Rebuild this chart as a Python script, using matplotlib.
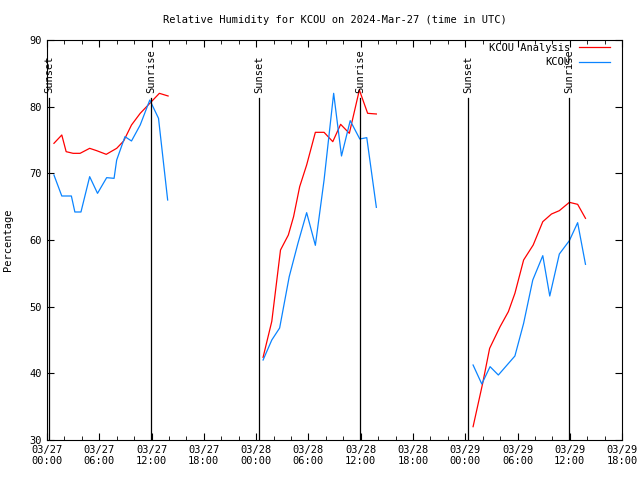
"""
Relative humidity at KCOU: analysis vs observed, with sunrise/sunset markers.
"""
import matplotlib
matplotlib.use("Agg")
import matplotlib.pyplot as plt
from matplotlib.ticker import MultipleLocator

# hours since 03/27 00:00 UTC, three separate runs (NaN breaks the line)
nan = float("nan")

analysis_hours = [0.8, 1.7, 2.2, 3.0, 3.8, 4.9, 5.7, 6.8, 8.0, 8.8, 9.7, 10.7, 11.8, 12.9, 13.9, nan,
                  24.8, 25.8, 26.8, 27.7, 28.3, 29.0, 29.8, 30.8, 31.8, 32.8, 33.7, 34.7, 35.85, 36.8, 37.8, nan,
                  48.9, 50.0, 50.8, 52.0, 52.95, 53.7, 54.7, 55.8, 56.9, 57.9, 58.8, 59.95, 60.9, 61.8]
analysis_rh = [74.5, 75.75, 73.25, 73.0, 73.0, 73.75, 73.4, 72.85, 73.75, 74.85, 77.25, 79.0, 80.5, 82.0, 81.6, nan,
               42.4, 47.8, 58.5, 60.75, 63.5, 68.0, 71.25, 76.15, 76.15, 74.75, 77.35, 76.0, 82.5, 79.0, 78.9, nan,
               32.0, 38.5, 43.75, 47.0, 49.25, 52.0, 57.0, 59.25, 62.75, 63.9, 64.4, 65.65, 65.35, 63.25]

obs_hours = [0.8, 1.7, 2.8, 3.2, 3.9, 4.9, 5.8, 6.85, 7.7, 8.0, 8.95, 9.7, 10.7, 11.8, 12.8, 13.85, nan,
             24.8, 25.8, 26.7, 27.8, 28.8, 29.8, 30.8, 31.8, 32.9, 33.8, 34.8, 35.9, 36.7, 37.8, nan,
             48.9, 49.9, 50.85, 51.8, 53.7, 54.7, 55.75, 56.9, 57.7, 58.8, 59.95, 60.9, 61.8]
obs_rh = [69.75, 66.6, 66.6, 64.2, 64.2, 69.5, 67.0, 69.35, 69.25, 72.0, 75.5, 74.85, 77.25, 81.0, 78.25, 66.0, nan,
          42.0, 45.0, 46.8, 54.5, 59.5, 64.1, 59.2, 69.0, 82.0, 72.6, 77.9, 75.15, 75.35, 64.9, nan,
          41.25, 38.4, 41.0, 39.75, 42.6, 47.5, 54.0, 57.65, 51.6, 57.9, 59.9, 62.6, 56.35]

sun_events = ["Sunset", "Sunrise", "Sunset", "Sunrise", "Sunset", "Sunrise"]
sun_hours = [0.25, 11.95, 24.35, 35.95, 48.35, 59.9]

tick_hours = list(range(0, 67, 6))
tick_labels = ["03/27\n00:00", "03/27\n06:00", "03/27\n12:00", "03/27\n18:00",
               "03/28\n00:00", "03/28\n06:00", "03/28\n12:00", "03/28\n18:00",
               "03/29\n00:00", "03/29\n06:00", "03/29\n12:00", "03/29\n18:00"]

plt.rcParams["font.family"] = "DejaVu Sans Mono"
plt.rcParams["font.size"] = 7.5

fig = plt.figure(figsize=(6.4, 4.8), dpi=100)
ax = fig.add_axes([0.0734, 0.0833, 0.8986, 0.8334])

ax.plot(analysis_hours, analysis_rh, color="#ff0000", lw=0.9, label="KCOU Analysis")
ax.plot(obs_hours, obs_rh, color="#0a84ff", lw=0.9, label="KCOU")

for name, h in zip(sun_events, sun_hours):
    ax.plot([h, h], [30, 81.3], color="black", lw=0.9)
    ax.text(h, 82.0, name, rotation=90, ha="center", va="bottom")

ax.set_xlim(0, 66)
ax.set_ylim(30, 90)
ax.set_xticks(tick_hours)
ax.set_xticklabels(tick_labels)
ax.xaxis.set_minor_locator(MultipleLocator(2))
ax.yaxis.set_major_locator(MultipleLocator(10))
ax.tick_params(which="both", direction="in", top=True, right=True, length=5)
ax.tick_params(which="minor", length=3)
ax.set_ylabel("Percentage", labelpad=12)
ax.set_title("Relative Humidity for KCOU on 2024-Mar-27 (time in UTC)", fontsize=7.5, pad=12)

leg = ax.legend(loc="upper right", bbox_to_anchor=(0.979, 0.993), frameon=False,
                markerfirst=False, handlelength=3.0, borderaxespad=0, borderpad=0,
                labelspacing=0.45)
for t in leg.get_texts():
    t.set_ha("right")

fig.savefig("out.png", dpi=100)
